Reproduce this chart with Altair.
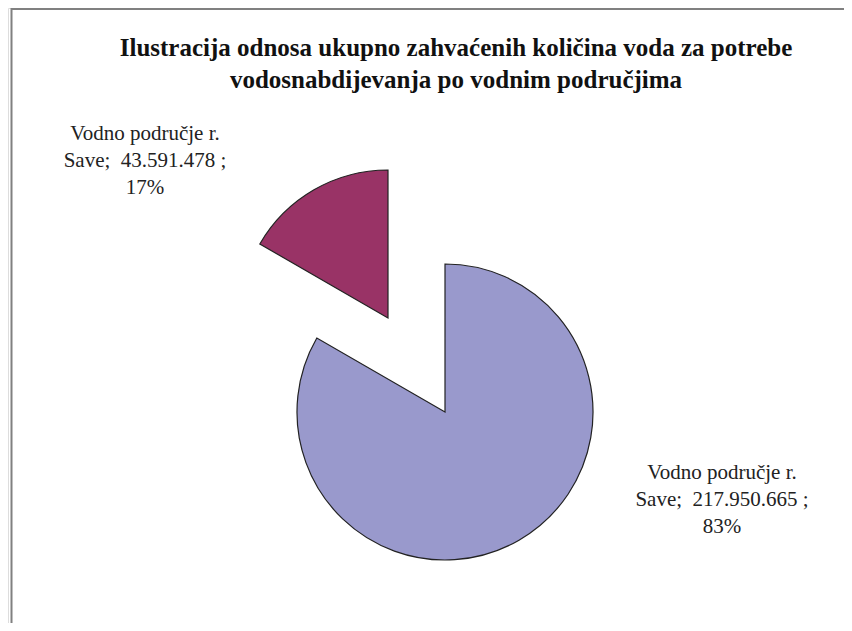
import altair as alt
import pandas as pd

# ---- data ----
slice_names = ["Vodno područje r. Save", "Vodno područje r. Save"]
slice_values = [217950665, 43591478]
value_labels = ["217.950.665", "43.591.478"]
pct_labels = ["83%", "17%"]
slice_order = [0, 1]
slice_colors = ["#9999CC", "#993366"]
title_lines = [
    "Ilustracija odnosa ukupno zahvaćenih količina voda za potrebe",
    "vodosnabdijevanja po vodnim područjima",
]

total = sum(slice_values)
df = pd.DataFrame({
    "name": slice_names,
    "value": slice_values,
    "order": slice_order,
    "label": [n.replace("r. ", "r.\n") + ";\u00a0 " + v + " ;\n" + p
              for n, v, p in zip(slice_names, value_labels, pct_labels)],
})

W, H = 836, 615
R = 148
FONT = "Liberation Serif"

base = alt.Chart(df).transform_window(
    end="sum(value)", sort=[alt.SortField("order")]
).transform_calculate(start="datum.end - datum.value")

theta = alt.Theta("start:Q", scale=alt.Scale(domain=[0, total]))
color = alt.Color("order:N", scale=alt.Scale(domain=slice_order, range=slice_colors), legend=None)

big = base.transform_filter("datum.order == 0").mark_arc(
    radius=R, stroke="#222222", strokeWidth=1.2
).encode(theta=theta, theta2="end:Q", color=color,
         x=alt.value(437), y=alt.value(404))

small = base.transform_filter("datum.order == 1").mark_arc(
    radius=R, stroke="#222222", strokeWidth=1.2
).encode(theta=theta, theta2="end:Q", color=color,
         x=alt.value(380), y=alt.value(310))

lab_big = alt.Chart(df).transform_filter("datum.order == 0").mark_text(
    font=FONT, fontSize=21, lineBreak="\n", lineHeight=27, align="center",
    baseline="alphabetic", color="#222222"
).encode(text="label:N", x=alt.value(714), y=alt.value(471))

lab_small = alt.Chart(df).transform_filter("datum.order == 1").mark_text(
    font=FONT, fontSize=21, lineBreak="\n", lineHeight=27, align="center",
    baseline="alphabetic", color="#222222"
).encode(text="label:N", x=alt.value(137), y=alt.value(132))

one = pd.DataFrame({"k": [0]})
title = alt.Chart(one).mark_text(
    font=FONT, fontSize=25, fontWeight="bold", lineHeight=32, align="center",
    baseline="alphabetic", color="#111111"
).encode(text=alt.value(title_lines), x=alt.value(448), y=alt.value(48))

left_rule = alt.Chart(one).mark_rule(color="#808080", strokeWidth=2).encode(
    x=alt.value(3.5), y=alt.value(0), y2=alt.value(H))
top_rule = alt.Chart(one).mark_rule(color="#808080", strokeWidth=2).encode(
    x=alt.value(3), x2=alt.value(W), y=alt.value(1))

chart = alt.layer(big, small, lab_big, lab_small, title, left_rule, top_rule).properties(
    width=W, height=H, padding=0, autosize=alt.AutoSizeParams(type="none")
).configure_view(strokeWidth=0, stroke="transparent").configure(background="white")

chart.save("out.html", embed_options={"renderer": "svg", "actions": False})
